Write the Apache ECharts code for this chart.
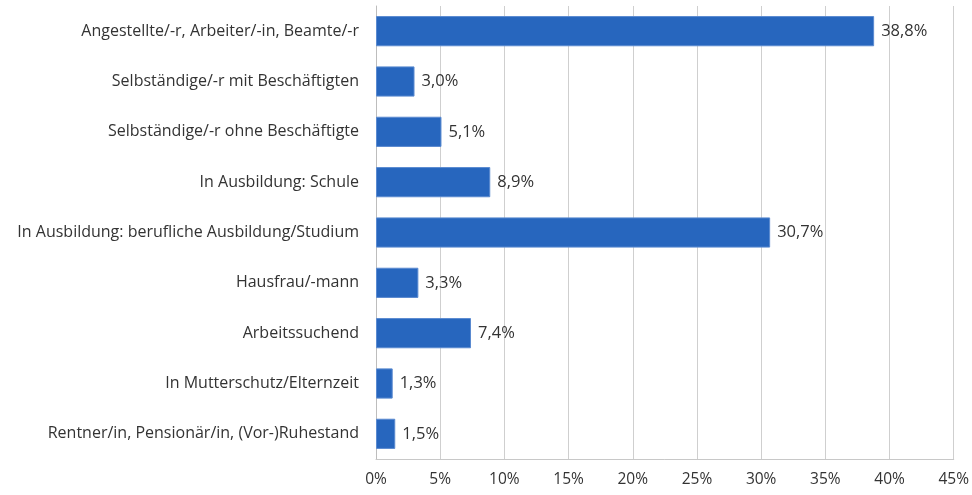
<!DOCTYPE html>
<html>
<head>
<meta charset="utf-8">
<script src="https://cdn.jsdelivr.net/npm/echarts@6/dist/echarts.min.js"></script>
<style>body{margin:0;background:#fff}#chart{width:972px;height:495px}</style>
</head>
<body>
<div id="chart"></div>
<script>
var categories = [
    "Angestellte/-r, Arbeiter/-in, Beamte/-r",
    "Selbständige/-r mit Beschäftigten",
    "Selbständige/-r ohne Beschäftigte",
    "In Ausbildung: Schule",
    "In Ausbildung: berufliche Ausbildung/Studium",
    "Hausfrau/-mann",
    "Arbeitssuchend",
    "In Mutterschutz/Elternzeit",
    "Rentner/in, Pensionär/in, (Vor-)Ruhestand"
];
var values = [38.8, 3.0, 5.1, 8.9, 30.7, 3.3, 7.4, 1.3, 1.5];
var xTicks = [0, 5, 10, 15, 20, 25, 30, 35, 40, 45];

var chart = echarts.init(document.getElementById('chart'));
var font = '"Open Sans", Lato, sans-serif';
chart.setOption({
    animation: false,
    grid: { left: 376, right: 17, top: 6, bottom: 36 },
    xAxis: {
        type: 'value',
        min: xTicks[0],
        max: xTicks[xTicks.length - 1],
        interval: 5,
        axisLine: { show: true, lineStyle: { color: '#c8c8c8' } },
        axisTick: { show: false },
        splitLine: { lineStyle: { color: '#cfcfcf' } },
        axisLabel: {
            formatter: function (v) { return v + '%'; },
            color: '#333', fontFamily: font, fontSize: 15.5, margin: 13
        }
    },
    yAxis: {
        type: 'category',
        inverse: true,
        data: categories,
        axisLine: { lineStyle: { color: '#bdbdbd' } },
        axisTick: { length: 5, lineStyle: { color: '#bdbdbd' } },
        axisLabel: { color: '#333', fontFamily: font, fontSize: 16, margin: 17 }
    },
    series: [{
        type: 'bar',
        data: values,
        barCategoryGap: '40%',
        itemStyle: { color: '#2766be', borderColor: '#5a8ad0', borderWidth: 1 },
        label: {
            show: true,
            position: 'right',
            distance: 7,
            color: '#333',
            fontFamily: font,
            fontSize: 16.5,
            formatter: function (p) { return p.value.toFixed(1).replace('.', ',') + '%'; }
        }
    }]
});
</script>
</body>
</html>
